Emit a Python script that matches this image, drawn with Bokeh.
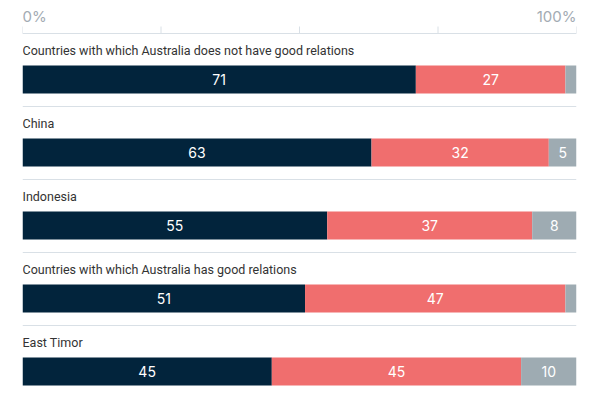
from bokeh.plotting import figure
from bokeh.models import ColumnDataSource, Range1d
from bokeh.core.properties import value
from bokeh.embed import file_html
from bokeh.resources import INLINE

categories = [
    "Countries with which Australia does not have good relations",
    "China",
    "Indonesia",
    "Countries with which Australia has good relations",
    "East Timor",
]
series_a = [71, 63, 55, 51, 45]
series_b = [27, 32, 37, 47, 45]
series_c = [2, 5, 8, 2, 10]
tick_values = [0, 25, 50, 75, 100]
tick_labels = {0: "0%", 100: "100%"}

colors = ["#02243c", "#f06e6e", "#9eabb2"]
FONT = "Roboto"
NUM_FONT = "Inter"

# layout in page pixels (y range is flipped page-pixel coordinates)
row0 = 80
pitch = 73
bar_h = 28

p = figure(width=592, height=392, x_range=Range1d(0, 100), y_range=Range1d(393, 1),
           output_backend="svg", toolbar_location=None,
           min_border_left=22, min_border_right=16, min_border_top=0, min_border_bottom=0)
p.axis.visible = False
p.xgrid.visible = False
p.ygrid.visible = False
p.outline_line_color = None

ys = [row0 + pitch * i for i in range(len(categories))]

lefts = [0] * len(categories)
for ser, col in zip([series_a, series_b, series_c], colors):
    rights = [l + v for l, v in zip(lefts, ser)]
    src = ColumnDataSource(dict(y=ys, left=lefts, right=rights,
                                mid=[(l + r) / 2 for l, r in zip(lefts, rights)],
                                lab=[str(v) if v >= 5 else "" for v in ser]))
    p.hbar(y="y", left="left", right="right", height=bar_h, source=src,
           fill_color=col, line_color=None)
    p.text(x="mid", y="y", text="lab", source=src, text_color="white",
           text_font=value(NUM_FONT), text_font_size="14px",
           text_align="center", text_baseline="middle")
    lefts = rights

# category labels
p.text(x=[0] * len(categories), y=[y - 29 for y in ys], text=categories,
       text_font=value(FONT), text_font_size="12.5px", text_color="#333333",
       text_align="left", text_baseline="middle")

# separators
p.segment(x0=[0] * len(categories), x1=[100] * len(categories),
          y0=[y + 27 for y in ys], y1=[y + 27 for y in ys],
          line_color="#d9e0e6", line_width=1)

# top axis
p.segment(x0=[0], x1=[100], y0=[34], y1=[34], line_color="#d9e0e6", line_width=1)
p.segment(x0=tick_values, x1=tick_values, y0=[34] * 5, y1=[27] * 5,
          line_color="#d9e0e6", line_width=1)
p.text(x=[0], y=[17], text=[tick_labels[0]], text_font=value(NUM_FONT),
       text_font_size="15px", text_color="#a3abb3", text_align="left", text_baseline="middle")
p.text(x=[100], y=[17], text=[tick_labels[100]], text_font=value(NUM_FONT),
       text_font_size="15px", text_color="#a3abb3", text_align="right", text_baseline="middle")

open("out.html", "w").write(file_html(p, INLINE))
